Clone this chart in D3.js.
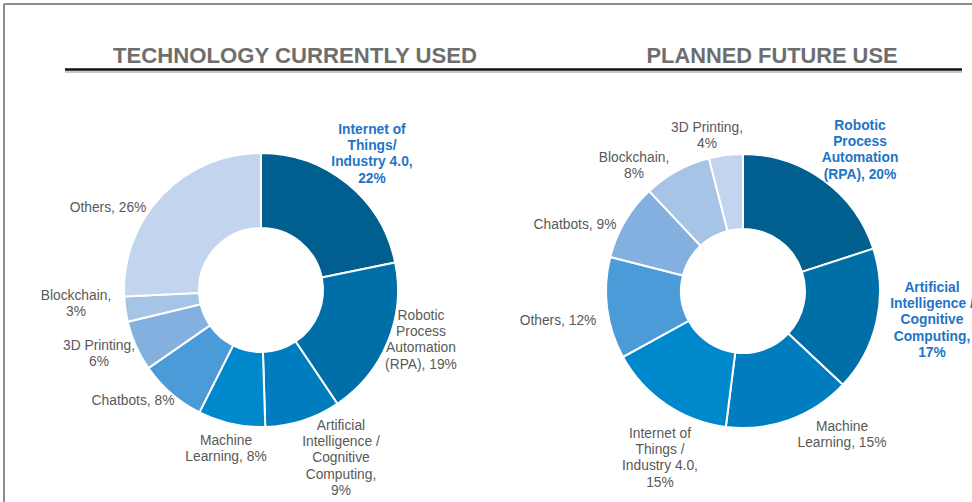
<!DOCTYPE html>
<html>
<head>
<meta charset="utf-8">
<script src="https://cdn.jsdelivr.net/npm/d3@7.9.0/dist/d3.min.js"></script>
<style>
  body { margin: 0; background: #fff; }
  svg { display: block; }
</style>
</head>
<body>
<svg id="chart" width="972" height="502"></svg>
<script>
// ---- data ----
const currentLabels = [
  'Internet of\nThings/\nIndustry 4.0,\n22%',
  'Robotic\nProcess\nAutomation\n(RPA), 19%',
  'Artificial\nIntelligence /\nCognitive\nComputing,\n9%',
  'Machine\nLearning, 8%',
  'Chatbots, 8%',
  '3D Printing,\n6%',
  'Blockchain,\n3%',
  'Others, 26%'
];
const currentValues = [22, 19, 9, 8, 8, 6, 3, 26];

const futureLabels = [
  'Robotic\nProcess\nAutomation\n(RPA), 20%',
  'Artificial\nIntelligence /\nCognitive\nComputing,\n17%',
  'Machine\nLearning, 15%',
  'Internet of\nThings /\nIndustry 4.0,\n15%',
  'Others, 12%',
  'Chatbots, 9%',
  'Blockchain,\n8%',
  '3D Printing,\n4%'
];
const futureValues = [20, 17, 15, 15, 12, 9, 8, 4];

const titles = ['TECHNOLOGY CURRENTLY USED', 'PLANNED FUTURE USE'];

// ---- layout ----
const palette = ['#005f8f', '#006fa8', '#007dbf', '#0088cc', '#4a9bd8', '#84b0df', '#a6c4e6', '#c3d5ee'];
const outerR = 137, innerR = 62;

// label anchor offsets from donut centre (first line)
const currentLabelPos = [[111, -161], [160, 25], [80, 135], [-35, 150], [-128, 110], [-162, 55], [-185, 5], [-153, -83]];
const futureLabelPos = [[117, -166], [189, -4], [99, 135], [-83, 142], [-185, 29], [-168, -67], [-109, -134], [-36, -164]];

const svg = d3.select('#chart');

// frame
svg.append('line').attr('x1', 4).attr('x2', 972).attr('y1', 4).attr('y2', 4)
  .attr('stroke', '#8c8c8c').attr('stroke-width', 2);
svg.append('line').attr('x1', 4).attr('x2', 4).attr('y1', 4).attr('y2', 502)
  .attr('stroke', '#8c8c8c').attr('stroke-width', 2);

// titles + rule
const titleX = [295, 772];
const titleW = [364, 251];
titles.forEach((t, i) => {
  svg.append('text')
    .attr('x', titleX[i]).attr('y', 63)
    .attr('text-anchor', 'middle')
    .attr('font-family', '"Liberation Sans Narrow", "Liberation Sans", Arial, sans-serif')
    .attr('font-weight', 'bold')
    .attr('font-size', 22)
    .attr('fill', '#6e6e6e')
    .attr('textLength', titleW[i])
    .attr('lengthAdjust', 'spacingAndGlyphs')
    .text(t);
});
svg.append('line').attr('x1', 65).attr('x2', 962).attr('y1', 72).attr('y2', 72)
  .attr('stroke', '#c8c8c8').attr('stroke-width', 2);
svg.append('line').attr('x1', 65).attr('x2', 962).attr('y1', 69.5).attr('y2', 69.5)
  .attr('stroke', '#111').attr('stroke-width', 2.5);

const pie = d3.pie().sort(null).value(d => d);
const arc = d3.arc().innerRadius(innerR).outerRadius(outerR);

function drawDonut(cx, cy, values, labels, labelPos, highlight) {
  const g = svg.append('g').attr('transform', `translate(${cx},${cy})`);
  g.selectAll('path')
    .data(pie(values))
    .join('path')
    .attr('d', arc)
    .attr('fill', (d, i) => palette[i])
    .attr('stroke', '#fff')
    .attr('stroke-width', 2);

  labels.forEach((lab, i) => {
    const hl = highlight.includes(i);
    const t = g.append('text')
      .attr('text-anchor', 'middle')
      .attr('font-family', '"Liberation Sans", Arial, sans-serif')
      .attr('font-size', 13.8)
      .attr('font-weight', hl ? 'bold' : 'normal')
      .attr('fill', hl ? '#1f74c6' : '#595959');
    lab.split('\n').forEach((line, k) => {
      t.append('tspan')
        .attr('x', labelPos[i][0])
        .attr('y', labelPos[i][1] + 5 + k * 16.2)
        .text(line);
    });
  });
}

drawDonut(261, 290, currentValues, currentLabels, currentLabelPos, [0]);
drawDonut(743, 291, futureValues, futureLabels, futureLabelPos, [0, 1]);
</script>
</body>
</html>
